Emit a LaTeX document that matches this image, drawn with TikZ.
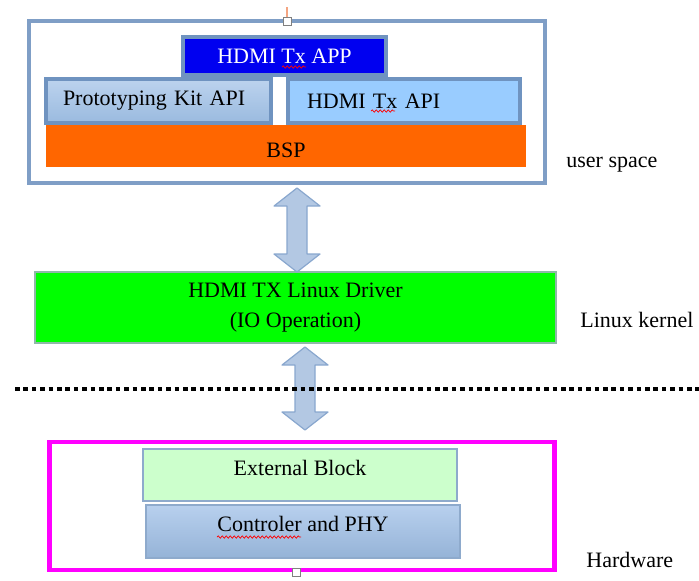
\documentclass[tikz,border=0pt]{standalone}
\usepackage{fontspec}
\setmainfont{Liberation Serif}
\usetikzlibrary{calc,decorations.pathmorphing}
\definecolor{frameblue}{HTML}{7F9EC6}
\definecolor{edgeblue}{HTML}{6F93C0}
\definecolor{appblue}{HTML}{0000F0}
\definecolor{protoTop}{HTML}{BCD3EE}
\definecolor{protoBot}{HTML}{9ABADF}
\definecolor{apiblue}{HTML}{99CCFF}
\definecolor{bsporange}{HTML}{FF6600}
\definecolor{drvgreen}{HTML}{00FF00}
\definecolor{greenedge}{HTML}{8FB8A8}
\definecolor{hwmagenta}{HTML}{FF00FF}
\definecolor{extgreen}{HTML}{CCFFCC}
\definecolor{thinedge}{HTML}{8EAACC}
\definecolor{ctrlTop}{HTML}{B8D0EE}
\definecolor{ctrlBot}{HTML}{95B3D7}
\definecolor{arrowfill}{HTML}{B3C8E3}
\definecolor{arrowedge}{HTML}{89A7CE}
\definecolor{stemorange}{HTML}{F4A582}
\tikzset{
  layer/.style = {draw=edgeblue, line width=2pt, minimum height=22pt, inner sep=0pt, outer sep=0pt},
  thinbox/.style = {draw=thinedge, line width=0.7pt, inner sep=0pt, outer sep=0pt},
  side/.style = {anchor=base west, inner sep=0pt},
  grip/.style = {draw=gray, fill=white, line width=0.4pt, minimum size=4pt, inner sep=0pt},
  ioarrow/.style = {fill=arrowfill, draw=arrowedge, line width=0.6pt, line join=round},
  squiggle/.style = {red, line width=0.35pt, decorate, decoration={snake, amplitude=0.6pt, segment length=2pt}},
  dotline/.style = {black, line width=1.7pt, dash pattern=on 2.3pt off 1.9pt}
}
% double headed block arrow between two points on one vertical
\newcommand{\ioarrow}[2]{%
  \draw[ioarrow] (#1) -- ($(#1)+(23,18)$) -- ($(#1)+(10,18)$) -- ($(#2)+(10,-18)$)
    -- ($(#2)+(23,-18)$) -- (#2) -- ($(#2)+(-23,-18)$) -- ($(#2)+(-10,-18)$)
    -- ($(#1)+(-10,18)$) -- ($(#1)+(-23,18)$) -- cycle;}

\begin{document}
\begin{tikzpicture}[x=0.5pt, y=-0.5pt, font=\fontsize{11}{15}\selectfont]

  \useasboundingbox (0,0) rectangle (699,580);

  % user space
  \node[draw=frameblue, line width=2pt, outer sep=0pt, minimum width=258pt, minimum height=81pt] (user) at (287,102) {};
  \node[layer, fill=appblue, text=white, minimum width=101.5pt, minimum height=19pt] (app) at (284.5,56) {HDMI Tx APP};
  \node[layer, top color=protoTop, bottom color=protoBot, text width=95.5pt, inner xsep=8.5pt, align=left] (kitapi) at (158.5,101) {Prototyping Kit API};
  \node[layer, fill=apiblue, text width=97pt, inner xsep=9.5pt, align=left] (txapi) at (404,101) {HDMI Tx API};
  \node[fill=bsporange, inner sep=0pt, minimum width=240pt, minimum height=21pt, text height=11pt, text depth=0pt] (bsp) at (286,146) {BSP};

  % kernel
  \node[fill=drvgreen, draw=greenedge, line width=0.7pt, outer sep=0pt, minimum width=260.5pt, minimum height=35.5pt, align=center] (drv) at (295.5,307.5) {HDMI TX Linux Driver\\(IO Operation)};

  % hardware
  \node[draw=hwmagenta, line width=2.3pt, outer sep=0pt, minimum width=252.75pt, minimum height=64pt] (hw) at (302,506) {};
  \node[thinbox, fill=extgreen, minimum width=157pt, minimum height=26pt, text height=6pt, text depth=6pt] (ext) at (300,475) {External Block};
  \node[thinbox, top color=ctrlTop, bottom color=ctrlBot, minimum width=157pt, minimum height=26.5pt, text height=6pt, text depth=6pt] (ctrl) at (303,531.5) {Controler and PHY};

  % side labels
  \node[side] (uslabel) at (566,167) {user space};
  \node[side] (lklabel) at (580,327) {Linux kernel};
  \node[side] (hwlabel) at (586,567) {Hardware};

  % arrows
  \coordinate (up1) at ($(user.south)+(10,5)$);
  \coordinate (dn1) at (drv.north -| up1);
  \coordinate (up2) at ($(drv.south)+(9.5,4)$);
  \coordinate (dn2) at ($(hw.north -| up2)+(0,-12)$);
  \ioarrow{up1}{dn1}
  \ioarrow{up2}{dn2}

  \coordinate (dotstart) at (15,389);
  \coordinate (dotend) at (699,389);
  \draw[dotline] (dotstart) -- (dotend);

  % grips
  \node[grip] (topgrip) at (user.north) {};
  \draw[stemorange, line width=0.6pt] (topgrip.north) -- ++(0,-10);
  \node[grip] (botgrip) at ($(hw.south)+(-6,2)$) {};

  % spelling marks
  \draw[squiggle] (282,67) -- (306,67);
  \draw[squiggle] (371,111) -- (395,111);
  \draw[squiggle] (217,537) -- (301,537);

\end{tikzpicture}
\end{document}
